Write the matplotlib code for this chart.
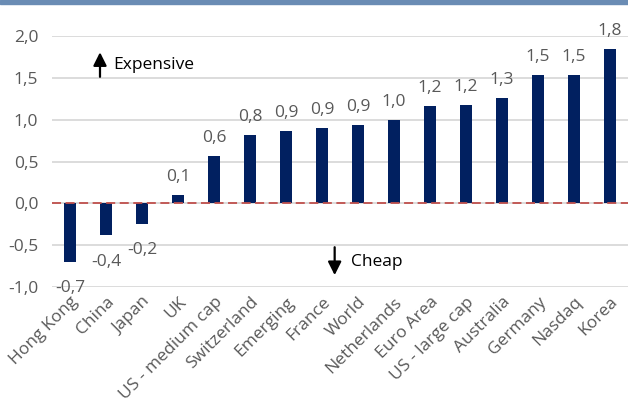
import matplotlib.pyplot as plt
from matplotlib.patches import Rectangle

countries = ["Hong Kong", "China", "Japan", "UK", "US - medium cap", "Switzerland",
             "Emerging", "France", "World", "Netherlands", "Euro Area", "US - large cap",
             "Australia", "Germany", "Nasdaq", "Korea"]
values = [-0.70, -0.38, -0.24, 0.10, 0.57, 0.82, 0.87, 0.90, 0.94, 1.00,
          1.16, 1.18, 1.26, 1.54, 1.54, 1.84]
yticks = [-1.0, -0.5, 0.0, 0.5, 1.0, 1.5, 2.0]

plt.rcParams['font.family'] = ['Open Sans', 'DejaVu Sans']
grey = '#595959'
fs = 12.5

fig = plt.figure(figsize=(6.28, 4.01), dpi=100)
ax = fig.add_axes([0.083, 0.284, 0.917, 0.626])

# band across the top of the figure
fig.patches.append(Rectangle((0, 0.99), 1, 0.01, transform=fig.transFigure,
                             color='#6a8cb4', zorder=5))

x = range(len(countries))
ax.bar(x, values, width=0.34, color='#012060', zorder=3)

for xi, v in zip(x, values):
    off = 13 if v >= 0 else -19
    ax.annotate(f"{v:.1f}".replace('.', ','), (xi, v), xytext=(0, off),
                textcoords='offset points', ha='center', va='center',
                fontsize=fs, color=grey, annotation_clip=False)

ax.set_xlim(-0.5, len(countries) - 0.5)
ax.set_ylim(-1.0, 2.0)
ax.set_yticks(yticks)
ax.set_yticklabels([f"{t:.1f}".replace('.', ',') for t in yticks])
ax.set_xticks(list(x))
ax.set_xticklabels(countries, rotation=45, ha='right', rotation_mode='anchor')
ax.tick_params(length=0, labelsize=fs, colors=grey)
ax.tick_params(axis='y', pad=10)
ax.tick_params(axis='x', pad=5)
ax.grid(axis='y', color='#d9d9d9', linewidth=1.3, zorder=0)
ax.set_axisbelow(True)
for s in ax.spines.values():
    s.set_visible(False)

ax.axhline(0, color='#c0504d', linestyle=(0, (5, 2.5)), linewidth=1.3, zorder=4)

# direction hints
arrow = dict(arrowstyle='-|>', color='black', lw=1.6, mutation_scale=20)
ax.annotate("", xy=(0.83, 1.84), xytext=(0.83, 1.48), arrowprops=arrow)
ax.text(1.2, 1.65, "Expensive", fontsize=fs, va='center', color='black')
ax.annotate("", xy=(7.35, -0.89), xytext=(7.35, -0.49), arrowprops=arrow)
ax.text(7.8, -0.70, "Cheap", fontsize=fs, va='center', color='black')

fig.savefig("out.png", dpi=100)
